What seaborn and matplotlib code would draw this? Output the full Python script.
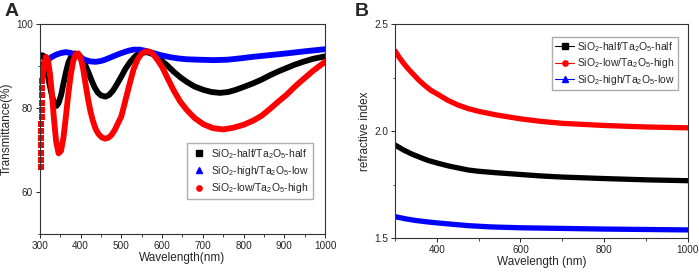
import numpy as np
import pandas as pd
import matplotlib.pyplot as plt
import seaborn as sns
from matplotlib.lines import Line2D
from matplotlib.ticker import MultipleLocator

# ---- panel A: transmittance (%) ----
black_x = [300, 308, 315, 322, 330, 336, 341, 346, 352, 358, 364, 370, 378, 386, 394, 402, 410, 418,
           426, 434, 442, 450, 461, 470, 480, 490, 500, 510, 522, 535, 548, 563, 578, 596, 612, 628,
           645, 661, 680, 702, 722, 742, 762, 780, 800, 824, 845, 865, 885, 905, 925, 946, 970, 1000]
black_y = [92.6, 92.5, 90.5, 86.5, 82.8, 80.9, 80.5, 81.2, 83, 85.8, 88.5, 90.8, 92.5, 93, 92.8, 92,
           90.6, 88.8, 86.8, 85, 83.7, 83, 82.7, 83.1, 84.2, 85.8, 87.5, 89.3, 91, 92.4, 93.1, 93.3,
           92.8, 91.5, 90.2, 88.7, 87.3, 86.2, 85.1, 84.3, 83.8, 83.6, 83.8, 84.3, 85, 85.9, 86.8,
           87.8, 88.7, 89.5, 90.3, 91.0, 91.7, 92.3]

blue_x = [300, 310, 320, 330, 340, 352, 364, 376, 390, 400, 410, 423, 437, 450, 460, 470, 480, 490,
          498, 510, 520, 530, 545, 560, 578, 596, 620, 640, 661, 690, 726, 760, 790, 824, 865, 905,
          950, 1000]
blue_y = [89.8, 90.7, 91.5, 92.2, 92.7, 93.1, 93.3, 93.1, 92.5, 92, 91.5, 91.1, 91.0, 91.2, 91.5,
          91.9, 92.3, 92.7, 93.0, 93.4, 93.7, 93.9, 93.9, 93.6, 93.1, 92.6, 92.1, 91.8, 91.6, 91.5,
          91.4, 91.5, 91.8, 92.2, 92.6, 93.0, 93.5, 94.0]

red_x = [307, 310, 315, 320, 325, 330, 335, 340, 346, 352, 358, 364, 370, 376, 382, 388, 394, 400,
         406, 412, 418, 424, 430, 437, 444, 452, 460, 468, 476, 484, 492, 500, 510, 520, 530, 540,
         550, 560, 570, 580, 590, 600, 614, 628, 644, 661, 680, 702, 725, 750, 775, 800, 824, 845,
         865, 885, 905, 925, 946, 970, 1000]
red_y = [87.5, 90, 92.2, 91.3, 88, 83, 77, 72, 69.2, 69.8, 73, 78, 83.5, 88, 91.2, 92.8, 93, 92,
         89.5, 85.8, 82.3, 79.3, 77, 75, 73.8, 73, 72.7, 72.9, 73.6, 74.8, 76.4, 78, 81.8, 85.6,
         89.2, 91.6, 93, 93.5, 93.4, 92.6, 91.3, 89.8, 87, 84.3, 81.6, 79.5, 77.6, 76.1, 75.2, 74.9,
         75.3, 76, 77, 78.2, 79.8, 81.5, 83.1, 85, 86.8, 88.8, 91]

# steep red rise at the left edge shows up as separate markers
red_edge_x = [303, 303, 303, 303.5, 303.5, 304, 304, 304.5, 304.5, 305, 305.5, 306, 306.5, 307]
red_edge_y = [66, 67.7, 69.4, 71.1, 72.8, 74.5, 76.2, 77.9, 79.6, 81.3, 83, 84.7, 86.4, 88]

# ---- panel B: refractive index ----
half_x = [300, 320, 340, 360, 380, 404, 430, 450, 475, 500, 543, 600, 650, 700, 800, 900, 1000]
half_n = [1.935, 1.912, 1.893, 1.877, 1.862, 1.849, 1.836, 1.828, 1.818, 1.812, 1.805, 1.797,
          1.79, 1.785, 1.778, 1.772, 1.768]
lowhigh_x = [300, 310, 320, 332, 344, 356, 370, 386, 404, 425, 450, 475, 500, 543, 600, 650, 700,
             800, 900, 1000]
lowhigh_n = [2.375, 2.345, 2.318, 2.29, 2.265, 2.24, 2.215, 2.19, 2.17, 2.145, 2.122, 2.105, 2.092,
             2.075, 2.057, 2.045, 2.036, 2.026, 2.019, 2.015]
highlow_x = [300, 325, 350, 375, 400, 440, 475, 530, 600, 700, 800, 900, 1000]
highlow_n = [1.60, 1.59, 1.582, 1.576, 1.571, 1.564, 1.558, 1.552, 1.548, 1.545, 1.542, 1.54, 1.538]

lab_half = 'SiO$_2$-half/Ta$_2$O$_5$-half'
lab_hl = 'SiO$_2$-high/Ta$_2$O$_5$-low'
lab_lh = 'SiO$_2$-low/Ta$_2$O$_5$-high'

sns.set_style("ticks")
plt.rcParams['font.family'] = ['Liberation Sans', 'DejaVu Sans']
plt.rcParams['mathtext.fontset'] = 'custom'
plt.rcParams['mathtext.rm'] = 'Liberation Sans'
plt.rcParams['mathtext.it'] = 'Liberation Sans'
plt.rcParams['axes.edgecolor'] = '#333333'
plt.rcParams['axes.linewidth'] = 0.8

fig = plt.figure(figsize=(6.99, 2.73), dpi=100)
axA = fig.add_axes([0.057, 0.143, 0.408, 0.769])
axB = fig.add_axes([0.565, 0.128, 0.419, 0.784])

sns.lineplot(x=black_x, y=black_y, ax=axA, color='black', linewidth=4.2)
sns.lineplot(x=blue_x, y=blue_y, ax=axA, color='#0000ff', linewidth=4.2)
sns.lineplot(x=red_x, y=red_y, ax=axA, color='#ff0000', linewidth=4.2)
sns.scatterplot(x=red_edge_x, y=red_edge_y, ax=axA, color='#ff0000', marker='s', s=16,
                linewidth=0, clip_on=False)

axA.set_xlim(300, 1000)
axA.set_ylim(50, 100)
axA.xaxis.set_major_locator(MultipleLocator(100))
axA.xaxis.set_minor_locator(MultipleLocator(50))
axA.yaxis.set_major_locator(MultipleLocator(20))
axA.yaxis.set_minor_locator(MultipleLocator(10))
axA.set_xlabel('Wavelength(nm)', fontsize=8.5, labelpad=1)
axA.set_ylabel('Transmittance(%)', fontsize=8.5, labelpad=2)

handlesA = [Line2D([], [], color='black', marker='s', linestyle='none', markersize=3.8),
            Line2D([], [], color='#0000ff', marker='^', linestyle='none', markersize=3.8),
            Line2D([], [], color='#ff0000', marker='o', linestyle='none', markersize=3.8)]
axA.legend(handlesA, [lab_half, lab_hl, lab_lh], loc='lower right',
           bbox_to_anchor=(0.975, 0.14), fontsize=7.5, frameon=True, fancybox=False,
           edgecolor='#999999', handletextpad=0.4, borderpad=0.4, labelspacing=0.3,
           handlelength=1.5)

sns.lineplot(x=half_x, y=half_n, ax=axB, color='black', linewidth=3.8)
sns.lineplot(x=lowhigh_x, y=lowhigh_n, ax=axB, color='#ff0000', linewidth=3.8)
sns.lineplot(x=highlow_x, y=highlow_n, ax=axB, color='#0000ff', linewidth=3.8)
axB.set_xlim(300, 1000)
axB.set_ylim(1.5, 2.5)
axB.set_xticks([400, 600, 800, 1000])
axB.xaxis.set_minor_locator(MultipleLocator(100))
axB.set_yticks([1.5, 2.0, 2.5])
axB.yaxis.set_minor_locator(MultipleLocator(0.25))
axB.set_xlabel('Wavelength (nm)', fontsize=8.5, labelpad=1)
axB.set_ylabel('refractive index', fontsize=8.5, labelpad=2)

handlesB = [Line2D([], [], color='black', marker='s', linewidth=0.8, markersize=3.8),
            Line2D([], [], color='#ff0000', marker='o', linewidth=0.8, markersize=3.8),
            Line2D([], [], color='#0000ff', marker='^', linewidth=0.8, markersize=3.8)]
axB.legend(handlesB, [lab_half, lab_lh, lab_hl], loc='upper right',
           bbox_to_anchor=(0.985, 0.965), fontsize=7.5, frameon=True, fancybox=False,
           edgecolor='#999999', handlelength=1.8, handletextpad=0.3, borderpad=0.3,
           labelspacing=0.25)

for ax in (axA, axB):
    ax.tick_params(which='major', labelsize=7.2, length=3, width=0.7, pad=2)
    ax.tick_params(which='minor', length=1.8, width=0.6)
    for s in ax.spines.values():
        s.set_visible(True)

fig.text(0.006, 0.99, 'A', fontsize=14, fontweight='bold', va='top', ha='left')
fig.text(0.508, 0.99, 'B', fontsize=14, fontweight='bold', va='top', ha='left')

fig.savefig('out.png', dpi=100)
